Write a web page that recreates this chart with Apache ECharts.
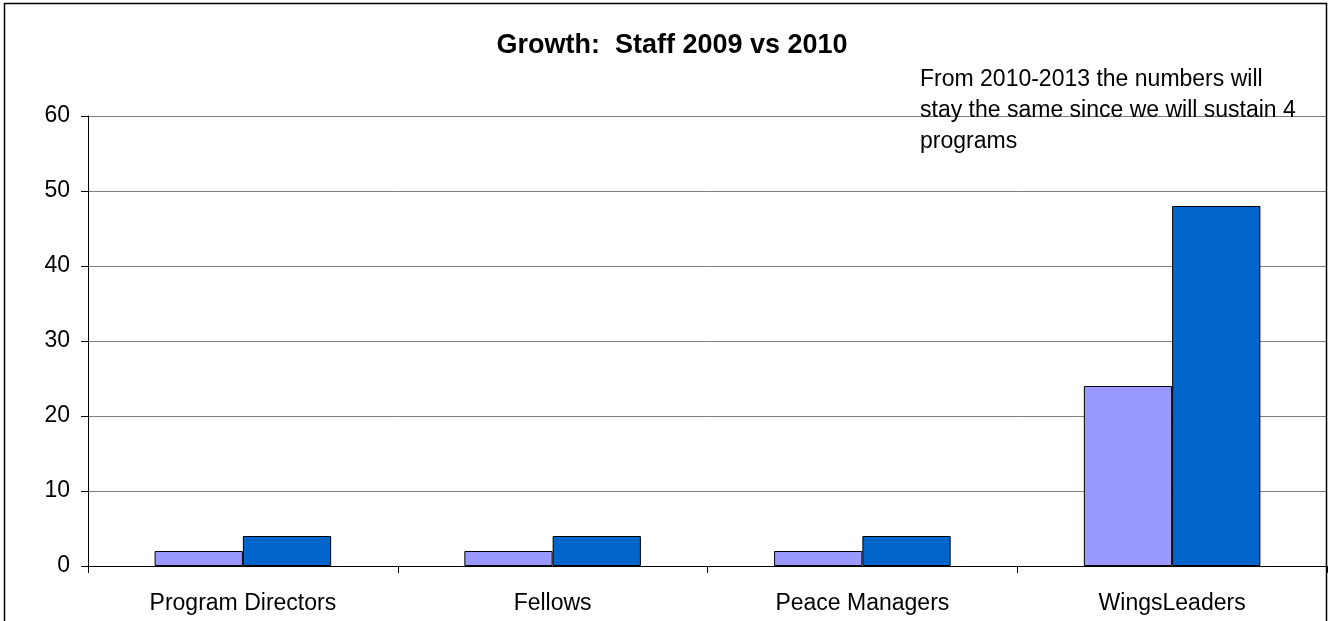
<!DOCTYPE html>
<html>
<head>
<meta charset="utf-8">
<script src="https://cdn.jsdelivr.net/npm/echarts@6/dist/echarts.min.js"></script>
<style>
  html, body { margin: 0; padding: 0; background: #fff; }
  #chart { width: 1328px; height: 621px; }
</style>
</head>
<body>
<div id="chart"></div>
<script>
// Staff counts per role, 2009 and 2010
const categories = ['Program Directors', 'Fellows', 'Peace Managers', 'WingsLeaders'];
const staff2009 = [2, 2, 2, 24];
const staff2010 = [4, 4, 4, 48];
const yTicks = { min: 0, max: 60, interval: 10 };
const titleText = 'Growth:  Staff 2009 vs 2010';
const noteLines = [
  'From 2010-2013 the numbers will',
  'stay the same since we will sustain 4',
  'programs'
];

const FONT = '"Liberation Sans", Arial, sans-serif';

const chart = echarts.init(document.getElementById('chart'), null, { renderer: 'canvas' });

chart.setOption({
  animation: false,
  backgroundColor: '#ffffff',
  textStyle: { fontFamily: FONT },
  title: {
    text: titleText,
    left: 667,
    top: 27,
    textAlign: 'center',
    textStyle: { fontFamily: FONT, fontSize: 27, fontWeight: 'bold', color: '#000' }
  },
  grid: { left: 88, right: 1, top: 116, bottom: 55, containLabel: false },
  xAxis: {
    type: 'category',
    data: categories,
    axisLine: { show: true, lineStyle: { color: '#000', width: 1 } },
    axisTick: { show: true, alignWithLabel: false, length: 7, lineStyle: { color: '#000' } },
    axisLabel: { color: '#000', fontSize: 23, fontFamily: FONT, margin: 26 },
    splitLine: { show: false }
  },
  yAxis: {
    type: 'value',
    min: yTicks.min,
    max: yTicks.max,
    interval: yTicks.interval,
    axisLine: { show: true, lineStyle: { color: '#000', width: 1 } },
    axisTick: { show: true, length: 7, lineStyle: { color: '#000' } },
    axisLabel: { color: '#000', fontSize: 23, fontFamily: FONT, margin: 18 },
    splitLine: { show: true, lineStyle: { color: '#7f7f7f', width: 1 } }
  },
  series: [
    {
      name: '2009',
      type: 'bar',
      data: staff2009,
      barGap: '0%',
      barCategoryGap: '43%',
      itemStyle: { color: '#9999ff', borderColor: '#000', borderWidth: 1 }
    },
    {
      name: '2010',
      type: 'bar',
      data: staff2010,
      itemStyle: { color: '#0066cc', borderColor: '#000', borderWidth: 1 }
    }
  ],
  graphic: [
    {
      type: 'rect',
      shape: { x: 4.5, y: 3.5, width: 1322, height: 640 },
      style: { fill: 'none', stroke: '#000', lineWidth: 1.5 },
      silent: true,
      z: 100
    },
    {
      type: 'text',
      left: 920,
      top: 64,
      style: {
        text: noteLines.join('\n'),
        font: '23px ' + FONT,
        fill: '#000',
        lineHeight: 31
      },
      z: 100
    }
  ]
});
</script>
</body>
</html>
